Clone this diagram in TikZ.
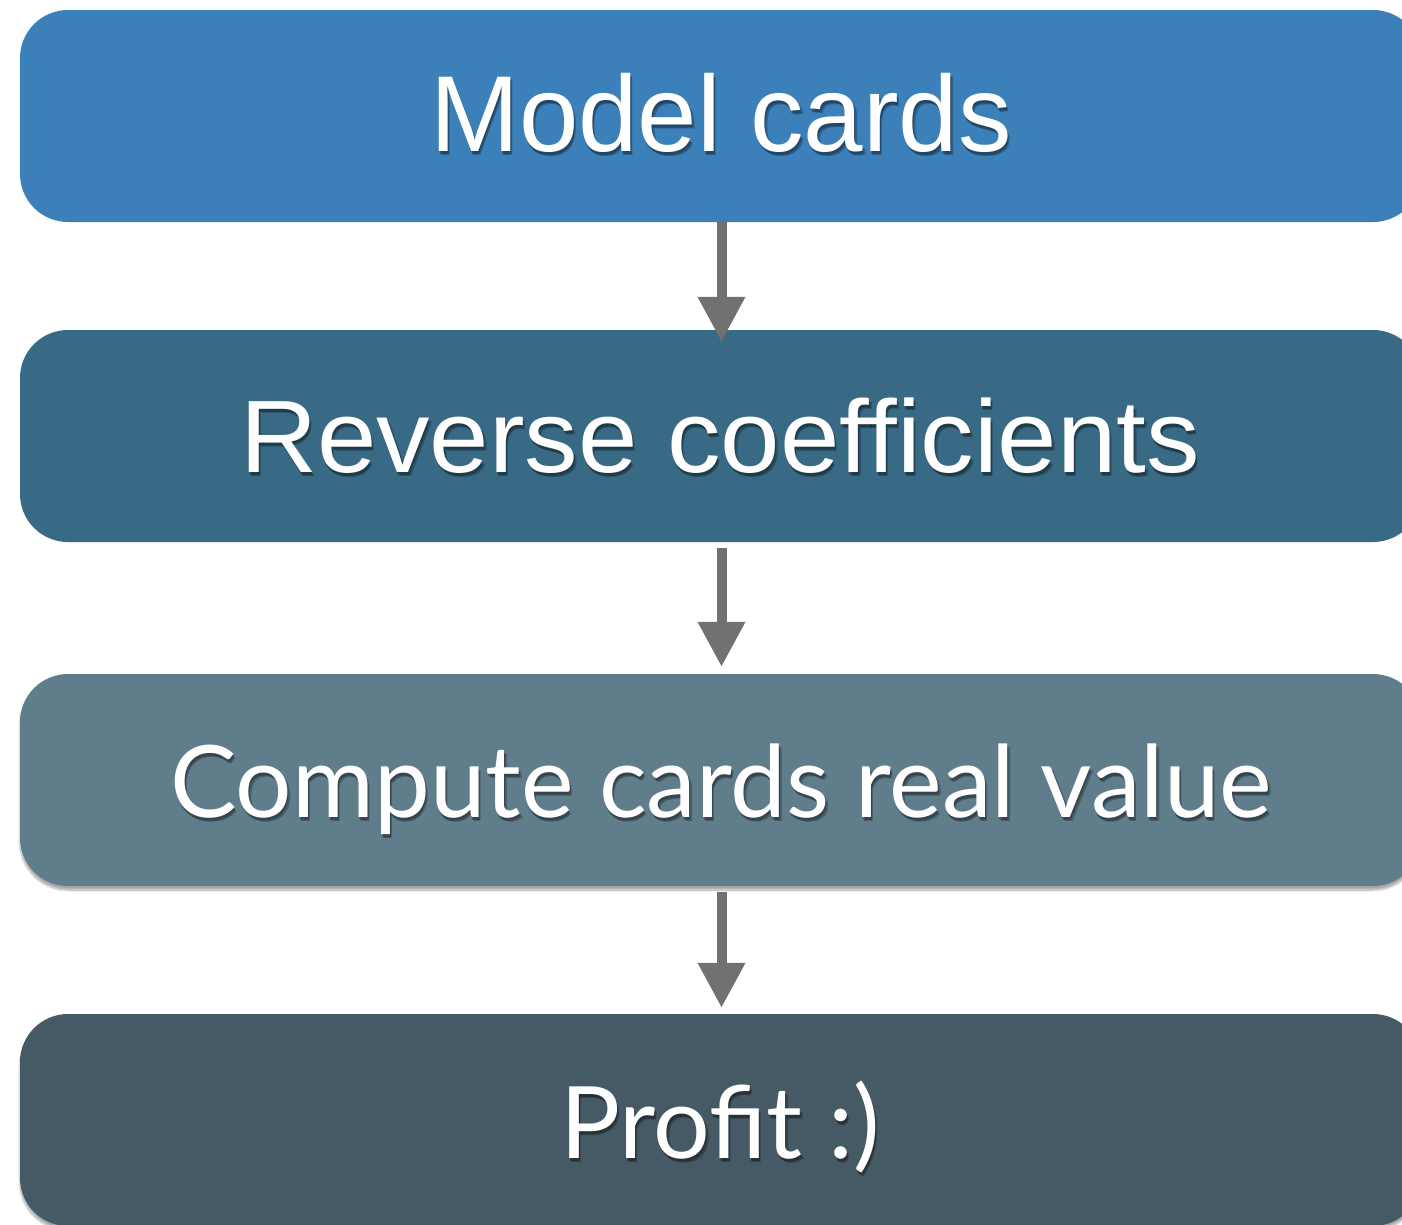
\documentclass[tikz,border=0pt]{standalone}
\usepackage{fontspec}
\usepackage{graphicx}
\setmainfont{Liberation Sans}
\newfontfamily\gillfont{Lato}
\usetikzlibrary{arrows.meta,calc,shadows.blur}
\definecolor{cA}{HTML}{3B80B9}
\definecolor{cB}{HTML}{386A85}
\definecolor{cC}{HTML}{607D8B}
\definecolor{cD}{HTML}{455A64}
\definecolor{arrgray}{HTML}{717171}
\newsavebox{\fitbox}
\newcommand{\fitw}[2]{\sbox{\fitbox}{#2}\scalebox{\fpeval{#1/(\the\wd\fitbox)}}[1]{\usebox{\fitbox}}}
\tikzset{
  card/.style={rectangle, rounded corners=48pt, minimum width=1401pt, minimum height=212pt, inner sep=0pt, draw=none},
  cardshadow/.style={blur shadow={shadow xshift=0pt, shadow yshift=-4pt, shadow blur steps=8, shadow blur extra rounding=3pt, shadow opacity=35}},
  lbl/.style={anchor=base, inner sep=0pt, text=white},
  lblsh/.style={anchor=base, inner sep=0pt, text=black, opacity=0.25},
  flow/.style={draw=arrgray, line width=10pt, -{Triangle[width=45pt,length=45pt]}}
}
\begin{document}
\begin{tikzpicture}[x=1pt,y=-1pt]
\useasboundingbox (0,0) rectangle (1402,1224);
\begin{scope}
\clip (0,0) rectangle (1402,1224);
\node[card, fill=cA] (b1) at (720.5,116) {};
\node[card, fill=cB] (b2) at (720.5,436) {};
\node[card, fill=cC, cardshadow] (b3) at (720.5,780) {};
\node[card, fill=cD, cardshadow] (b4) at (720.5,1120) {};
\end{scope}
% soft text shadows
\foreach \dx/\dy in {1/3, 2.5/4.5}{
  \node[lblsh] (s1) at (721+\dx,151+\dy) {\fontsize{108}{120}\selectfont\fitw{582}{Model cards}};
  \node[lblsh] (s2) at (720+\dx,472+\dy) {\fontsize{103}{115}\selectfont\fitw{960}{Reverse coefficients}};
  \node[lblsh] (s3) at (721+\dx,817+\dy) {\gillfont\fontsize{100}{112}\selectfont\fitw{1102}{Compute cards real value}};
  \node[lblsh] (s4) at (720+\dx,1158+\dy) {\gillfont\fontsize{100}{112}\selectfont\fitw{320}{Profit :)}};
}
\node[lbl] (t1) at (721,151) {\fontsize{108}{120}\selectfont\fitw{582}{Model cards}};
\node[lbl] (t2) at (720,472) {\fontsize{103}{115}\selectfont\fitw{960}{Reverse coefficients}};
\node[lbl] (t3) at (721,817) {\gillfont\fontsize{100}{112}\selectfont\fitw{1102}{Compute cards real value}};
\node[lbl] (t4) at (720,1158) {\gillfont\fontsize{100}{112}\selectfont\fitw{320}{Profit :)}};
% arrows
\draw[flow] ($(b1.south)+(1,0)$) -- ($(b2.north)+(1,12)$);
\draw[flow] ($(b2.south)+(1,6)$) -- ($(b3.north)+(1,-7)$);
\draw[flow] ($(b3.south)+(1,6)$) -- ($(b4.north)+(1,-6)$);
\end{tikzpicture}
\end{document}
